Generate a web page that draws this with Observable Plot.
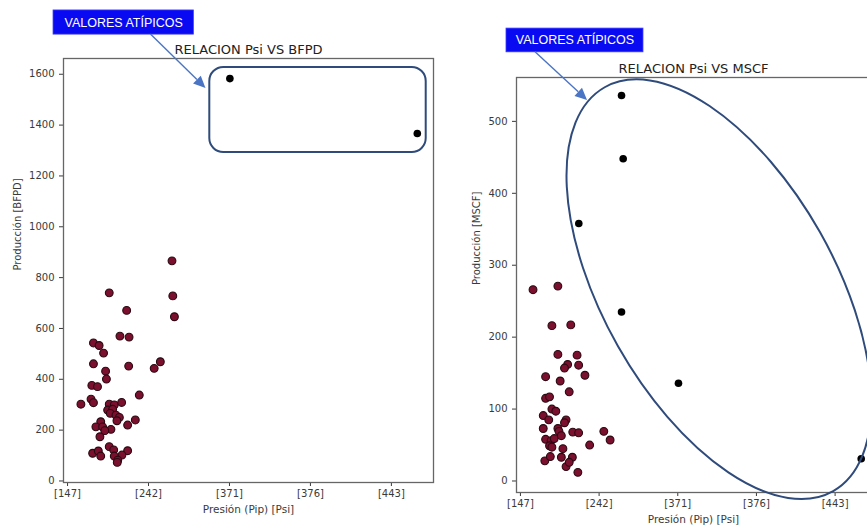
<!DOCTYPE html>
<html>
<head>
<meta charset="utf-8">
<script src="https://cdn.jsdelivr.net/npm/d3@7"></script>
<script src="https://cdn.jsdelivr.net/npm/@observablehq/plot@0.6"></script>
<style>
  html, body { margin: 0; padding: 0; background: #fff; }
  #wrap { position: relative; width: 867px; height: 527px; overflow: hidden; background: #fff; }
  #left { position: absolute; left: 0; top: 0; width: 445px; height: 527px; }
  #right { position: absolute; left: 440px; top: 0; width: 440px; height: 527px; }
  #wrap svg { max-width: none !important; }
</style>
</head>
<body>
<div id="wrap"><div id="left"></div><div id="right"></div></div>
<script>
// ---------- data ----------
const xTickLabels = ["[147]", "[242]", "[371]", "[376]", "[443]"];
const xTickPos = [0, 1, 2, 3, 4];

// Left panel: Presión vs Producción [BFPD]
const bfpdX = [0.515, 1.30, 0.73, 1.32, 0.647, 0.76, 0.32, 0.39, 0.445, 1.146, 1.07, 0.32, 0.755, 0.47, 0.48,
  0.30, 0.37, 0.886, 0.165, 0.29, 0.32, 0.515, 0.577, 0.668, 0.495, 0.557, 0.527, 0.598, 0.64, 0.61,
  0.837, 0.742, 0.41, 0.35, 0.433, 0.536, 0.46, 0.40, 0.515, 0.57, 0.31, 0.38, 0.41, 0.742, 0.672,
  0.577, 0.62, 0.614, 1.29];
const bfpdY = [740, 728, 671, 646, 570, 566, 543, 533, 503, 469, 443, 461, 452, 432, 401,
  376, 371, 338, 302, 322, 308, 302, 299, 309, 279, 282, 266, 259, 250, 237,
  240, 220, 233, 213, 213, 203, 198, 174, 135, 122, 109, 118, 98, 119, 102,
  98, 82, 73, 866];
const bfpdOutX = [2.005, 4.32];
const bfpdOutY = [1583, 1367];
const bfpdYTicks = [0, 200, 400, 600, 800, 1000, 1200, 1400, 1600];

// Right panel: Presión vs Producción [MSCF]
const mscfX = [0.16, 0.476, 0.40, 0.64, 0.476, 0.72, 0.60, 0.74, 0.56, 0.32, 0.82, 0.505, 0.62, 0.32, 0.37,
  0.40, 0.45, 0.29, 0.36, 0.58, 0.56, 0.29, 0.476, 0.49, 0.665, 0.74, 1.06, 1.14, 0.88, 0.32,
  0.39, 0.43, 0.52, 0.37, 0.40, 0.54, 0.31, 0.38, 0.52, 0.66, 0.58, 0.73, 0.62];
const mscfY = [266, 271, 216, 217, 176, 175, 162, 161, 157, 145, 147, 139, 124, 115, 117,
  100, 97, 91, 85, 85, 81, 73, 73, 69, 68, 67, 69, 57, 50, 58,
  56, 59, 63, 49, 47, 45, 28, 34, 33, 33, 20, 12, 26];
const mscfOutX = [1.285, 1.306, 0.742, 1.285, 2.009, 4.332];
const mscfOutY = [536, 448, 358, 235, 136, 31];
const mscfYTicks = [0, 100, 200, 300, 400, 500];

// ---------- annotations (data coordinates) ----------
const labelText = "VALORES ATÍPICOS";
const leftLabelBox = [-0.173, 1.56, 1756, 1851];      // x1, x2, y1, y2
const leftArrow = [1.03, 1756, 1.71, 1544];           // from x,y to x,y
const leftOutlierBox = [1.757, 4.43, 1292, 1627];     // x1, x2, y1, y2
const rightLabelBox = [-0.177, 1.564, 596, 629];
const rightArrow = [0.192, 596, 0.853, 529];
const rightEllipseCenter = [2.53, 266];

const ptFill = "#7a0f2e", ptStroke = "#2a0a12";
const annStroke = "#2f4b7c", arrowColor = "#4a74c4", boxFill = "#0a0af2";

function arrowMark(a) {
  return (index, scales) => {
    const x1 = scales.x(a[0]), y1 = scales.y(a[1]), x2 = scales.x(a[2]), y2 = scales.y(a[3]);
    const ang = Math.atan2(y2 - y1, x2 - x1);
    const hl = 12, hw = 5.5;
    const bx = x2 - hl * Math.cos(ang), by = y2 - hl * Math.sin(ang);
    const g = d3.create("svg:g");
    g.append("line").attr("x1", x1).attr("y1", y1).attr("x2", bx).attr("y2", by)
      .attr("stroke", arrowColor).attr("stroke-width", 1.4);
    const px = -Math.sin(ang), py = Math.cos(ang);
    g.append("polygon")
      .attr("points", `${x2},${y2} ${bx + hw * px},${by + hw * py} ${bx - hw * px},${by - hw * py}`)
      .attr("fill", arrowColor);
    return g.node();
  };
}

function ellipseMark(c) {
  return (index, scales) => {
    const cx = scales.x(c[0]), cy = scales.y(c[1]);
    return d3.create("svg:ellipse")
      .attr("cx", cx).attr("cy", cy).attr("rx", 232).attr("ry", 116)
      .attr("transform", `rotate(60.5 ${cx} ${cy})`)
      .attr("fill", "none").attr("stroke", annStroke).attr("stroke-width", 2)
      .node();
  };
}

const idx = (arr) => arr.map((_, i) => i);
const commonStyle = {fontSize: "10px", fontFamily: "DejaVu Sans, sans-serif", color: "#3a3a3a",
  background: "transparent", overflow: "visible", maxWidth: "none"};

function panel(opts) {
  const {xs, ys, oxs, oys, yTicks, xDomain, yDomain, title, ylabel, labelBox, arrow, extra,
         width, height, margins, ylabelDx} = opts;
  return Plot.plot({
    width, height,
    marginLeft: margins[0], marginRight: margins[1], marginTop: margins[2], marginBottom: margins[3],
    style: commonStyle,
    x: {domain: xDomain, ticks: xTickPos, tickFormat: d => xTickLabels[d], tickSize: 4, tickPadding: 3, label: null},
    y: {domain: yDomain, ticks: yTicks, tickFormat: d => String(d), tickSize: 4, tickPadding: 5, label: null},
    marks: [
      Plot.frame({stroke: "#666", strokeWidth: 1.3}),
      Plot.dot(idx(xs), {x: i => xs[i], y: i => ys[i], r: 3.9, fill: ptFill, stroke: ptStroke, strokeWidth: 1.1}),
      Plot.dot(idx(oxs), {x: i => oxs[i], y: i => oys[i], r: 3.8, fill: "#000"}),
      ...extra,
      Plot.rect([labelBox], {x1: d => d[0], x2: d => d[1], y1: d => d[2], y2: d => d[3], fill: boxFill, stroke: "#3a3aff", strokeWidth: 0.8}),
      Plot.text([labelBox], {x: d => (d[0] + d[1]) / 2, y: d => (d[2] + d[3]) / 2, text: () => labelText,
        fill: "white", fontSize: 12.5, fontFamily: "Liberation Sans, Arial, sans-serif"}),
      arrowMark(arrow),
      Plot.text([title], {frameAnchor: "top", lineAnchor: "bottom", dy: -5, fontSize: 13, fill: "#222"}),
      Plot.text([ylabel], {frameAnchor: "left", rotate: -90, dx: ylabelDx, fontSize: 10, fill: "#3a3a3a"}),
      Plot.text(["Presión (Pip) [Psi]"], {frameAnchor: "bottom", dy: 30, fontSize: 10.5, fill: "#3a3a3a"})
    ]
  });
}

const left = panel({
  xs: bfpdX, ys: bfpdY, oxs: bfpdOutX, oys: bfpdOutY, yTicks: bfpdYTicks,
  xDomain: [-0.05, 4.52], yDomain: [-6, 1662],
  title: "RELACION Psi VS BFPD", ylabel: "Producción [BFPD]",
  labelBox: leftLabelBox, arrow: leftArrow,
  extra: [Plot.rect([leftOutlierBox], {x1: d => d[0], x2: d => d[1], y1: d => d[2], y2: d => d[3],
    fill: "none", stroke: annStroke, strokeWidth: 2, rx: 14})],
  width: 445, height: 527, margins: [63, 12, 58, 45], ylabelDx: -46
});
document.getElementById("left").appendChild(left);

const right = panel({
  xs: mscfX, ys: mscfY, oxs: mscfOutX, oys: mscfOutY, yTicks: mscfYTicks,
  xDomain: [-0.05, 4.45], yDomain: [-16, 561],
  title: "RELACION Psi VS MSCF", ylabel: "Producción [MSCF]",
  labelBox: rightLabelBox, arrow: rightArrow,
  extra: [ellipseMark(rightEllipseCenter)],
  width: 440, height: 527, margins: [76, 10, 77, 35], ylabelDx: -40
});
document.getElementById("right").appendChild(right);
</script>
</body>
</html>
